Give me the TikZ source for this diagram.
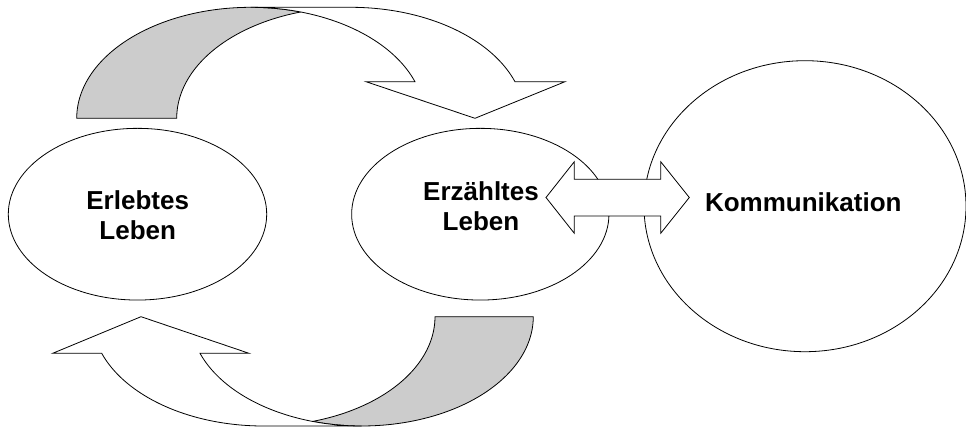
\documentclass[tikz,border=0pt]{standalone}
\usepackage{fontspec}
\setmainfont{Liberation Sans}
\usetikzlibrary{shapes.geometric}
\begin{document}
\begin{tikzpicture}[x=1pt,y=-1pt,
  outline/.style={draw=black,line width=0.8pt,line join=miter},
  bandgray/.style={outline,fill=black!20},
  bandwhite/.style={outline,fill=white},
  blob/.style={ellipse,draw=black,line width=0.8pt,inner sep=0pt,fill=white},
  lbl/.style={font=\bfseries\fontsize{26}{30}\selectfont,align=center,inner sep=0pt}]
\useasboundingbox (0,0) rectangle (966,427);

% ellipses
\node[blob,minimum width=258.4pt,minimum height=171.7pt] (erlebt) at (137.5,214.2) {};
\node[blob,minimum width=257.3pt,minimum height=171.7pt] (erzaehlt) at (480.3,214.2) {};
\node[blob,minimum width=322pt,minimum height=291pt] (komm) at (805,206.2) {};

% top curved arrow
\draw[bandgray] plot[domain=106.7:180,samples=50] ({350.7+174*cos(\x)},{118.3-111*sin(\x)})
  -- plot[domain=180:73.3,samples=60] ({250.7+174*cos(\x)},{118.3-111*sin(\x)}) -- cycle;
\draw[bandwhite] (475,118.3) -- (366,81.7)
  -- plot[domain=19.25:90,samples=60] ({250.7+174*cos(\x)},{118.3-111*sin(\x)})
  -- plot[domain=90:19.25,samples=60] ({350.7+174*cos(\x)},{118.3-111*sin(\x)})
  -- (565,81.7) -- cycle;

% bottom curved arrow
\draw[bandgray] plot[domain=253.36:360,samples=60] ({361.7+171.6*cos(\x)},{316.7-109.3*sin(\x)})
  -- plot[domain=360:286.64,samples=50] ({263.4+171.6*cos(\x)},{316.7-109.3*sin(\x)}) -- cycle;
\draw[bandwhite] (141,316.7) -- (249,353.3)
  -- plot[domain=199.55:270,samples=60] ({361.7+171.6*cos(\x)},{316.7-109.3*sin(\x)})
  -- plot[domain=270:199.55,samples=60] ({263.4+171.6*cos(\x)},{316.7-109.3*sin(\x)})
  -- (52.7,353.3) -- cycle;

% double arrow
\draw[bandwhite] (546,197.5) -- (574.3,161.7) -- (574.3,179.3) -- (660.7,179.3) -- (660.7,161.7)
  -- (689.3,197.5) -- (660.7,233.3) -- (660.7,216) -- (574.3,216) -- (574.3,233.3) -- cycle;

% labels
\node[lbl] (t1) at (137.7,215.5) {Erlebtes\\Leben};
\node[lbl] (t2) at (481,206.7) {Erzähltes\\Leben};
\node[lbl,anchor=base] (t3) at (803.3,211.7) {Kommunikation};
\end{tikzpicture}
\end{document}
